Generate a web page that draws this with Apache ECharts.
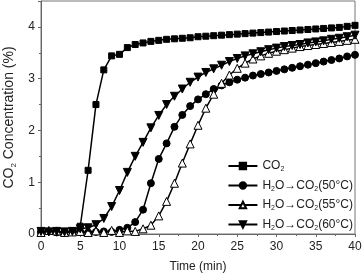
<!DOCTYPE html>
<html><head><meta charset="utf-8">
<script src="https://cdn.jsdelivr.net/npm/echarts@6/dist/echarts.min.js"></script>
<style>html,body{margin:0;padding:0;background:#fff}#c{width:362px;height:273px}</style>
</head><body><div id="c"></div>
<script>
var time = [0,1,2,3,4,5,6,7,8,9,10,11,12,13,14,15,16,17,18,19,20,21,22,23,24,25,26,27,28,29,30,31,32,33,34,35,36,37,38,39,40];
var co2 = [0.04,0.05,0.04,0.05,0.06,0.15,1.23,2.50,3.17,3.44,3.47,3.60,3.66,3.69,3.72,3.74,3.76,3.77,3.78,3.79,3.81,3.82,3.83,3.84,3.85,3.86,3.87,3.88,3.89,3.90,3.91,3.92,3.93,3.94,3.95,3.96,3.97,3.98,3.99,4.01,4.03];
var h2o50 = [0.04,0.05,0.03,0.04,0.05,0.04,0.03,0.04,0.05,0.04,0.08,0.12,0.23,0.47,0.98,1.45,1.75,2.07,2.30,2.47,2.60,2.70,2.80,2.87,2.93,2.98,3.02,3.06,3.09,3.12,3.15,3.18,3.21,3.24,3.27,3.30,3.33,3.36,3.39,3.43,3.46];
var h2o55 = [0.03,0.07,0.06,0.03,0.04,0.05,0.03,0.06,0.03,0.07,0.03,0.06,0.05,0.10,0.17,0.35,0.63,0.98,1.37,1.74,2.10,2.43,2.70,2.91,3.07,3.20,3.30,3.38,3.44,3.49,3.53,3.56,3.59,3.62,3.64,3.66,3.68,3.70,3.72,3.74,3.76];
var h2o60 = [0.05,0.04,0.05,0.04,0.05,0.10,0.12,0.18,0.30,0.53,0.84,1.19,1.50,1.77,2.05,2.29,2.50,2.66,2.80,2.93,3.03,3.12,3.19,3.26,3.33,3.39,3.44,3.48,3.52,3.56,3.59,3.62,3.64,3.66,3.69,3.71,3.73,3.76,3.78,3.81,3.84];
var xTicks = [0,5,10,15,20,25,30,35,40];
var yTicks = [0,1,2,3,4];
var seriesNames = ['CO2','H2O-CO2(50C)','H2O-CO2(55C)','H2O-CO2(60C)'];
var legendLabels = {
  'CO2': '{n|CO}{s|2}',
  'H2O-CO2(50C)': '{n|H}{s|2}{n|O→CO}{s|2}{n|(50°C)}',
  'H2O-CO2(55C)': '{n|H}{s|2}{n|O→CO}{s|2}{n|(55°C)}',
  'H2O-CO2(60C)': '{n|H}{s|2}{n|O→CO}{s|2}{n|(60°C)}'
};
function pairs(v){ return time.map(function(t,i){ return [t, v[i]]; }); }
var FONT = 'Liberation Sans';
var TXT = '#222';
var chart = echarts.init(document.getElementById('c'), null, {renderer:'canvas'});
var downTri = 'path://M0,0L10,0L5,9Z';
function mk(name, data, symbol, size, fill){
  return {
    name: name, type: 'line', data: pairs(data),
    symbol: symbol, symbolSize: size, showSymbol: true,
    lineStyle: {color: '#000', width: 1.5},
    itemStyle: {color: fill, borderColor: '#000', borderWidth: 1},
    emphasis: {disabled: true}, animation: false
  };
}
chart.setOption({
  animation: false,
  grid: {left: 41, right: 7, top: 1, bottom: 39, show: true, borderColor: '#777', borderWidth: 1,
         containLabel: false, outerBoundsMode: 'none'},
  legend: {
    orient: 'vertical', right: 9, top: 159, itemGap: 5.5, itemWidth: 29, itemHeight: 8, padding: 0,
    data: seriesNames,
    formatter: function(n){ return legendLabels[n]; },
    textStyle: {
      fontFamily: FONT, fontSize: 12, color: TXT, lineHeight: 14,
      rich: {
        n: {fontFamily: FONT, fontSize: 12, color: TXT, lineHeight: 14},
        s: {fontFamily: FONT, fontSize: 7, color: TXT, lineHeight: 14, verticalAlign: 'bottom'}
      }
    }
  },
  xAxis: {
    type: 'value', min: 0, max: 40, interval: 5,
    name: 'Time (min)', nameLocation: 'middle', nameGap: 27,
    nameTextStyle: {fontFamily: FONT, fontSize: 12, color: TXT},
    axisLine: {lineStyle: {color: '#666', width: 1}},
    axisTick: {inside: false, length: 3, lineStyle: {color: '#666'}},
    minorTick: {show: true, splitNumber: 2, length: 2, lineStyle: {color: '#666'}},
    axisLabel: {fontFamily: FONT, fontSize: 12, color: TXT, margin: 7},
    splitLine: {show: false}
  },
  yAxis: {
    type: 'value', min: 0, max: 4.5, interval: 1,
    name: '{n|CO}{s|2}{n| Concentration (%)}', nameLocation: 'middle', nameGap: 21, nameRotate: 90,
    nameTextStyle: {fontFamily: FONT, fontSize: 14, color: TXT,
      rich: {n: {fontFamily: FONT, fontSize: 14, color: TXT, lineHeight: 16}, s: {fontFamily: FONT, fontSize: 8, color: TXT, lineHeight: 16, verticalAlign: 'bottom'}}},
    axisLine: {show: true, lineStyle: {color: '#666', width: 1}},
    axisTick: {show: true, inside: false, length: 3, lineStyle: {color: '#666'}},
    minorTick: {show: true, splitNumber: 2, length: 2, lineStyle: {color: '#666'}},
    axisLabel: {fontFamily: FONT, fontSize: 12, color: TXT, margin: 6, showMaxLabel: false,
      formatter: function(v){ return yTicks.indexOf(v) >= 0 ? String(v) : ''; }},
    splitLine: {show: false}
  },
  series: [
    mk(seriesNames[0], co2, 'rect', 6, '#000'),
    mk(seriesNames[1], h2o50, 'circle', 7, '#000'),
    mk(seriesNames[2], h2o55, 'triangle', 8, '#fff'),
    mk(seriesNames[3], h2o60, downTri, 8, '#000')
  ]
});
</script></body></html>
